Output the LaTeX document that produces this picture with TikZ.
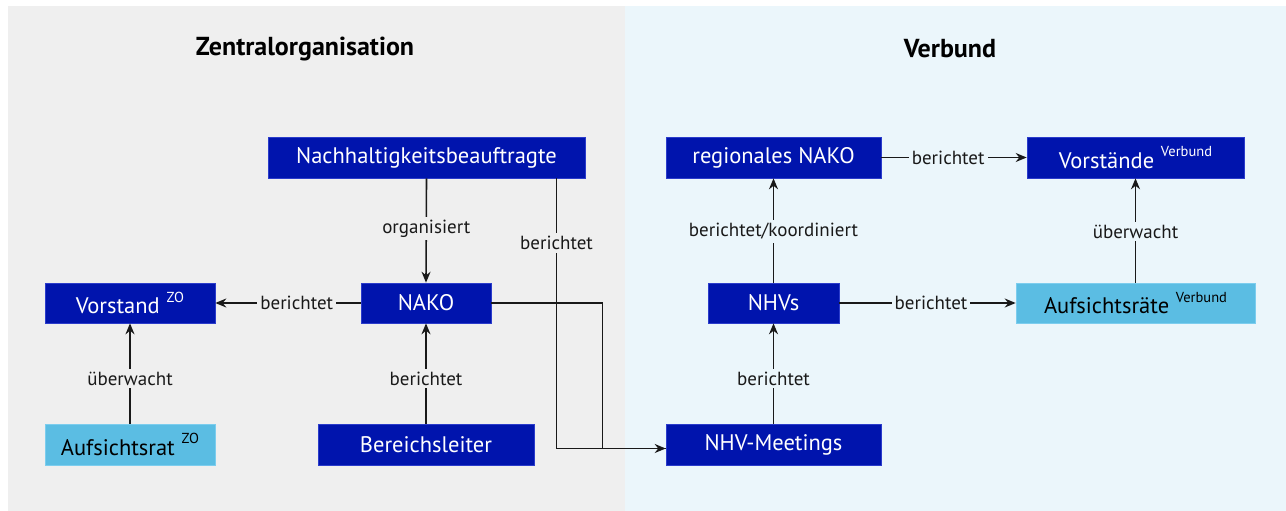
\documentclass[tikz,border=0pt]{standalone}
\usepackage{fontspec}
\setmainfont{PT Sans}
\usetikzlibrary{arrows.meta,calc}
\definecolor{zobg}{HTML}{EFEFEF}
\definecolor{vbbg}{HTML}{EBF6FB}
\definecolor{dblue}{HTML}{0014AD}
\definecolor{dblueedge}{HTML}{2B3CCB}
\definecolor{lblue}{HTML}{5BBDE3}
\definecolor{lblueedge}{HTML}{7CCDEE}
\newcommand{\supx}[1]{\hspace{0.3em}\raisebox{0.5em}{\fontsize{14.5}{14.5}\selectfont #1}}
\begin{document}
\begin{tikzpicture}[x=1pt,y=-1pt,
  darkbox/.style={draw=dblueedge,line width=0.6pt,fill=dblue,text=white,inner sep=0pt,
     font=\fontsize{22.5}{25}\selectfont},
  lightbox/.style={draw=lblueedge,line width=0.6pt,fill=lblue,text=black,inner sep=0pt,
     font=\fontsize{22.5}{25}\selectfont},
  lblzo/.style={fill=zobg,inner sep=3pt,font=\fontsize{19}{21}\selectfont,text=black!90},
  lblvb/.style={fill=vbbg,inner sep=3pt,font=\fontsize{19}{21}\selectfont,text=black!90},
  conn/.style={draw=black!90,line width=1.6pt},
  arr/.style={conn,-{Stealth[length=11pt,width=9pt]}},
  title/.style={font=\fontsize{26}{30}\selectfont\bfseries}
]
\useasboundingbox (0,0) rectangle (1286,511);
\fill[white] (0,0) rectangle (1286,511);
\fill[zobg] (8,6) rectangle (624.5,511);
\fill[vbbg] (624.5,6) rectangle (1286,511);

\node[title] (tzo) at (305,49) {Zentralorganisation};
\node[title] (tvb) at (950,49) {Verbund};

% Zentralorganisation
\node[darkbox,minimum width=317pt,minimum height=41pt] (nb) at (426.5,157.5) {Nachhaltigkeitsbeauftragte};
\node[darkbox,minimum width=170pt,minimum height=40pt] (vz) at (130,303) {Vorstand\supx{ZO}};
\node[darkbox,minimum width=130pt,minimum height=40pt] (nako) at (426,303) {NAKO};
\node[lightbox,minimum width=170pt,minimum height=41pt] (az) at (130,444.5) {Aufsichtsrat\supx{ZO}};
\node[darkbox,minimum width=216pt,minimum height=41pt] (bl) at (426,444.5) {Bereichsleiter};

% Verbund
\node[darkbox,minimum width=215pt,minimum height=41pt] (rn) at (773.5,157.5) {regionales NAKO};
\node[darkbox,minimum width=217pt,minimum height=41pt] (vv) at (1135.5,157.5) {Vorstände\supx{Verbund}};
\node[darkbox,minimum width=131pt,minimum height=40pt] (nhv) at (773.5,303) {NHVs};
\node[lightbox,minimum width=239pt,minimum height=40pt] (av) at (1135.5,303) {Aufsichtsräte\supx{Verbund}};
\node[darkbox,minimum width=215pt,minimum height=41pt] (nhvm) at (773.5,444.5) {NHV-Meetings};

% connectors ZO
\draw[arr] (nb.south) -- node[lblzo,pos=0.48] {organisiert} (nako.north);
\draw[arr] (nako.west) -- node[lblzo,pos=0.44] {berichtet} (vz.east);
\draw[arr] (az.north) -- node[lblzo,pos=0.45] {überwacht} (vz.south);
\draw[arr] (bl.north) -- node[lblzo,pos=0.45] {berichtet} (nako.south);

\coordinate (nhvin) at ([yshift=-4pt]nhvm.west);
\coordinate (nbdown) at (556.5,178);
\coordinate (nbcorner) at (556.5,448.5);
\coordinate (nakocorner) at (602.5,303);
\draw[conn] (nbdown) -- node[lblzo,pos=0.24] {berichtet} (nbcorner);
\draw[arr] (nbcorner) -- (nhvin);
\draw[conn] (nako.east) -- (nakocorner) |- (nhvin);

% connectors Verbund
\draw[arr] (rn.east) -- node[lblvb,pos=0.46] {berichtet} (vv.west);
\draw[arr] (nhv.east) -- node[lblvb,pos=0.52] {berichtet} (av.west);
\draw[arr] (nhv.north) -- node[lblvb,pos=0.49] {berichtet/koordiniert} (rn.south);
\draw[arr] (av.north) -- node[lblvb,pos=0.49] {überwacht} (vv.south);
\draw[arr] (nhvm.north) -- node[lblvb,pos=0.45] {berichtet} (nhv.south);
\end{tikzpicture}
\end{document}
